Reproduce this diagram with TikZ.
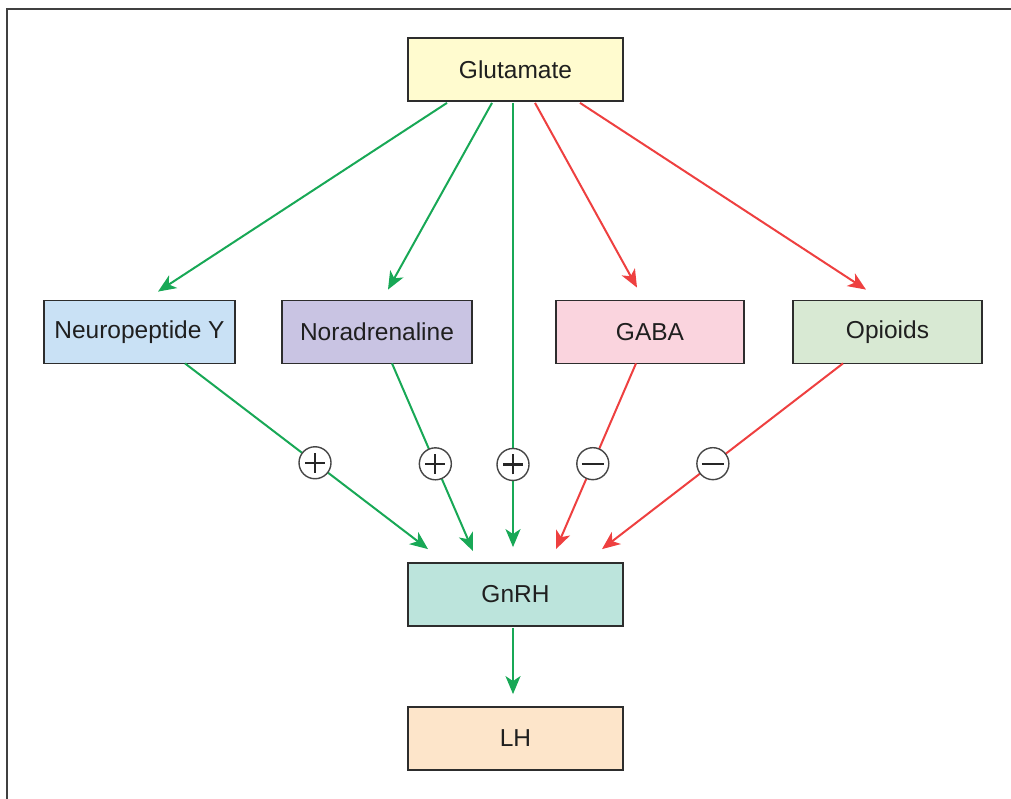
\documentclass[tikz,border=0pt]{standalone}
\usepackage{fontspec}
\setmainfont{Liberation Sans}
\usetikzlibrary{arrows.meta}
\definecolor{actgreen}{RGB}{24,168,86}
\definecolor{inhred}{RGB}{238,64,64}
\definecolor{boxline}{RGB}{45,45,45}
\definecolor{signline}{RGB}{70,70,70}
\definecolor{fglu}{RGB}{255,251,207}
\definecolor{fnpy}{RGB}{201,225,245}
\definecolor{fnor}{RGB}{201,196,227}
\definecolor{fgaba}{RGB}{250,212,222}
\definecolor{fopi}{RGB}{216,233,211}
\definecolor{fgnrh}{RGB}{188,228,220}
\definecolor{flh}{RGB}{253,229,202}
\begin{document}
\begin{tikzpicture}[x=1pt,y=-1pt,
  box/.style={draw=boxline, line width=1.8pt, inner sep=0pt,
    minimum height=63pt, text=black!88,
    font=\fontsize{24.5}{28}\selectfont},
  link/.style={line width=2pt, -{Stealth[length=18pt,width=15pt,inset=5pt]}},
  gline/.style={link, draw=actgreen, fill=actgreen},
  rline/.style={link, draw=inhred, fill=inhred},
  sign/.style={circle, draw=signline, fill=white, line width=1.4pt,
    minimum size=32pt, inner sep=0pt},
  mark stroke/.style={line width=2.2pt, black!85, arrows=-}
]
\useasboundingbox (0,0) rectangle (1011,799);
% frame
\draw[line width=2pt, black!75] (7,805) -- (7,9) -- (1020,9);

% boxes
\node[box, fill=fglu,  minimum width=215pt] (glu)  at (515.5,69.5) {Glutamate};
\node[box, fill=fnpy,  minimum width=191pt] (npy)  at (139.5,332) {Neuropeptide Y};
\node[box, fill=fnor,  minimum width=190pt] (nor)  at (377,332)   {Noradrenaline};
\node[box, fill=fgaba, minimum width=188pt] (gaba) at (650,332)   {GABA};
\node[box, fill=fopi,  minimum width=189pt] (opi)  at (887.5,332) {Opioids};
\node[box, fill=fgnrh, minimum width=215pt] (gnrh) at (515.5,594.5) {GnRH};
\node[box, fill=flh,   minimum width=215pt] (lh)   at (515.5,738.5) {LH};

% glutamate outputs
\draw[gline] ([xshift=-68.5pt,yshift=-1pt]glu.south) -- ([xshift=18.5pt,yshift=8pt]npy.north);
\draw[gline] ([xshift=-23.5pt,yshift=-1pt]glu.south) -- ([xshift=11pt,yshift=10pt]nor.north);
\draw[rline] ([xshift=19.5pt,yshift=-1pt]glu.south) -- ([xshift=-13pt,yshift=12pt]gaba.north);
\draw[rline] ([xshift=64.5pt,yshift=-1pt]glu.south) -- ([xshift=-21.5pt,yshift=10pt]opi.north);
\draw[gline] ([xshift=-2.5pt,yshift=-1pt]glu.south) --
  node[sign, pos=0.814] (s3) {} ([xshift=-2.5pt,yshift=15pt]gnrh.north);

% inputs to GnRH
\draw[gline] ([xshift=45.5pt,yshift=1pt]npy.south) --
  node[sign, pos=0.535] (s1) {} ([xshift=-87.5pt,yshift=13pt]gnrh.north);
\draw[gline] ([xshift=15pt,yshift=1pt]nor.south) --
  node[sign, pos=0.535] (s2) {} ([xshift=-42.5pt,yshift=11pt]gnrh.north);
\draw[rline] ([xshift=-14pt,yshift=1pt]gaba.south) --
  node[sign, pos=0.54] (s4) {} ([xshift=40.5pt,yshift=13pt]gnrh.north);
\draw[rline] ([xshift=-44.5pt,yshift=1pt]opi.south) --
  node[sign, pos=0.54] (s5) {} ([xshift=86.5pt,yshift=13pt]gnrh.north);

% GnRH to LH
\draw[gline] ([xshift=-2.5pt,yshift=-1pt]gnrh.south) -- ([xshift=-2.5pt,yshift=12pt]lh.north);

% plus and minus marks inside the signs
\foreach \s in {s1,s2,s3}{
  \draw[mark stroke] ([xshift=-10pt]\s.center) -- ([xshift=10pt]\s.center)
                     ([yshift=-10pt]\s.center) -- ([yshift=10pt]\s.center);
}
\foreach \s in {s4,s5}{
  \draw[mark stroke] ([xshift=-11pt]\s.center) -- ([xshift=11pt]\s.center);
}
\end{tikzpicture}
\end{document}
